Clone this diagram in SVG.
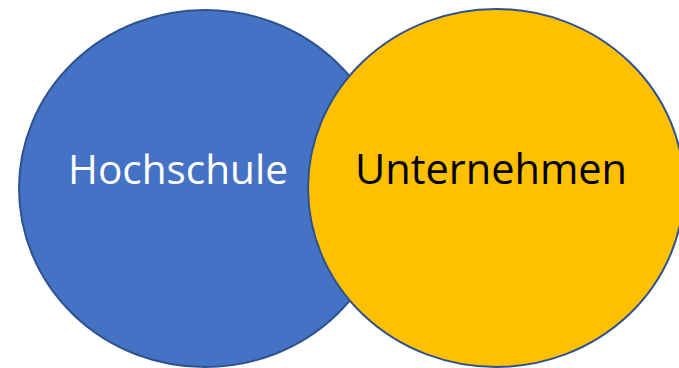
<svg xmlns="http://www.w3.org/2000/svg" width="679" height="368" viewBox="0 0 679 368">
<style>
.shape{stroke:#2F528F;stroke-width:2}
.lbl{font-family:"Open Sans","Noto Sans",sans-serif;font-size:40px;text-anchor:middle}
</style>
<rect width="679" height="368" fill="#FFFFFF"/>
<g id="hochschule">
<ellipse class="shape" cx="205" cy="188.5" rx="186" ry="178.5" fill="#4472C4"/>
<text class="lbl" x="178" y="184" fill="#FFFFFF" style="font-size:40.5px">Hochschule</text>
</g>
<g id="unternehmen">
<ellipse class="shape" cx="496" cy="188" rx="188" ry="179" fill="#FFC000"/>
<text class="lbl" x="491" y="184" fill="#000000" style="font-size:41.5px">Unternehmen</text>
</g>
<g id="connectors"/>
</svg>
